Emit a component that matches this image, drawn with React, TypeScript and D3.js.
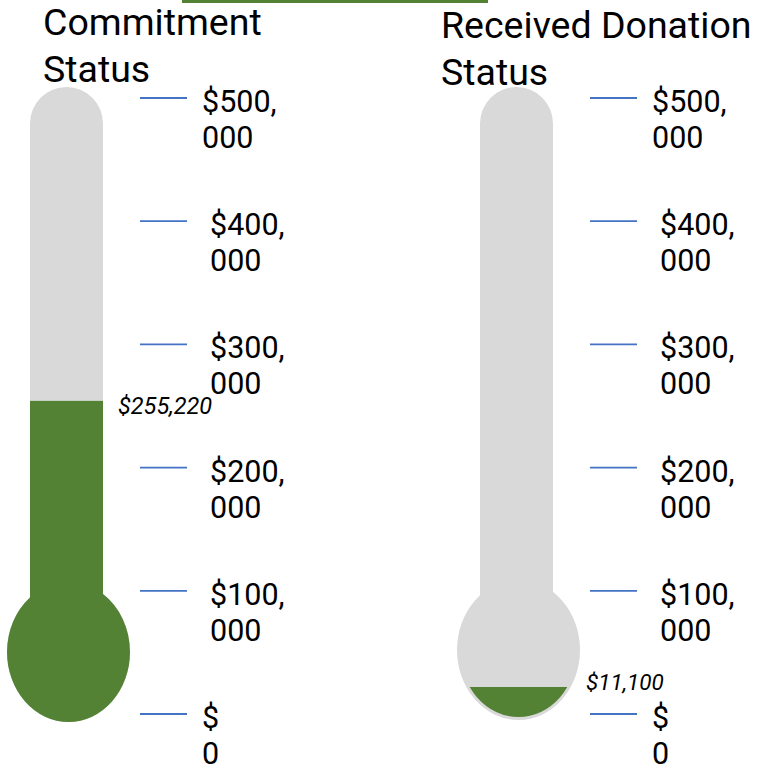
import React from 'react'
import * as d3 from 'd3'

// thermometer data
const gauges = ['Commitment Status', 'Received Donation Status']
const titleLines = [['Commitment', 'Status'], ['Received Donation', 'Status']]
const values = [255220, 11100]
const valueLabels = ['$255,220', '$11,100']
const goal = 500000
const tickValues = [0, 100000, 200000, 300000, 400000, 500000]
const tickLabels = [['$', '0'], ['$100,', '000'], ['$200,', '000'], ['$300,', '000'], ['$400,', '000'], ['$500,', '000']]

const GRAY = '#D9D9D9'
const GREEN = '#548235'
const BLUE = '#4472C4'
const FONT = 'Roboto, "Noto Sans", sans-serif'

export default function App() {
  const width = 762
  const height = 772

  // axis scale for the tick marks
  const y = d3.scaleLinear().domain([0, goal]).range([714, 98])
  // fill scale used by the liquid (offset like the excel trick)
  const yFill = d3.scaleLinear().domain([0, goal]).range([700, 114])

  // each panel offset
  const panelX = d3.scalePoint().domain(gauges).range([0, 450])

  return (
    <svg width={width} height={height} style={{ position: 'absolute', left: 0, top: 0 }}>
      <rect x={182} y={0} width={306} height={3} fill={GREEN} />
      {gauges.map((g, gi) => {
        const ox = panelX(g)!
        const tubeX = 30
        const tubeW = 73
        const bulbCx = 68.5
        const bulbCy = 652 - gi * 2
        const rx = 61.5
        const ry = 70
        const tubeTop = 87
        const r = tubeW / 2
        const tubePath = d3.path()
        tubePath.moveTo(tubeX, bulbCy)
        tubePath.lineTo(tubeX, tubeTop + r)
        tubePath.arc(tubeX + r, tubeTop + r, r, Math.PI, 0)
        tubePath.lineTo(tubeX + tubeW, bulbCy)
        tubePath.closePath()
        const fillTop = yFill(values[gi])
        const clipId = 'clip' + gi
        return (
          <g key={g} transform={`translate(${ox},0)`}>
            <defs>
              <clipPath id={clipId}>
                <path d={tubePath.toString()} />
                <ellipse cx={bulbCx} cy={bulbCy} rx={rx - (gi ? 3 : 0)} ry={ry - (gi ? 3 : 0)} />
              </clipPath>
            </defs>
            <path d={tubePath.toString()} fill={GRAY} />
            <ellipse cx={bulbCx} cy={bulbCy} rx={rx} ry={ry} fill={GRAY} />
            <rect x={0} y={fillTop} width={140} height={760 - fillTop} fill={GREEN} clipPath={`url(#${clipId})`} />
            {titleLines[gi].map((t, li) => (
              <text key={li} x={gi ? -9 : 43} y={(gi ? 38 : 35) + li * 47} fontFamily={FONT} fontSize={37.5} fill="#000">{t}</text>
            ))}
            {tickValues.map((v, ti) => (
              <g key={v}>
                <line x1={140} x2={187} y1={y(v)} y2={y(v)} stroke={BLUE} strokeWidth={1.8} />
                {tickLabels[ti].map((s, li) => (
                  <text key={li} x={v === 0 || v === goal ? 202 : 210} y={y(v) + 14 + li * 36}
                    fontFamily={FONT} fontSize={30.5} fill="#000">{s}</text>
                ))}
              </g>
            ))}
            <text x={gi ? 136 : 118} y={fillTop + (gi ? 3 : 13)} fontFamily={FONT} fontStyle="italic" fontSize={gi ? 22.5 : 23.5} fill="#000">
              {valueLabels[gi]}
            </text>
          </g>
        )
      })}
    </svg>
  )
}
